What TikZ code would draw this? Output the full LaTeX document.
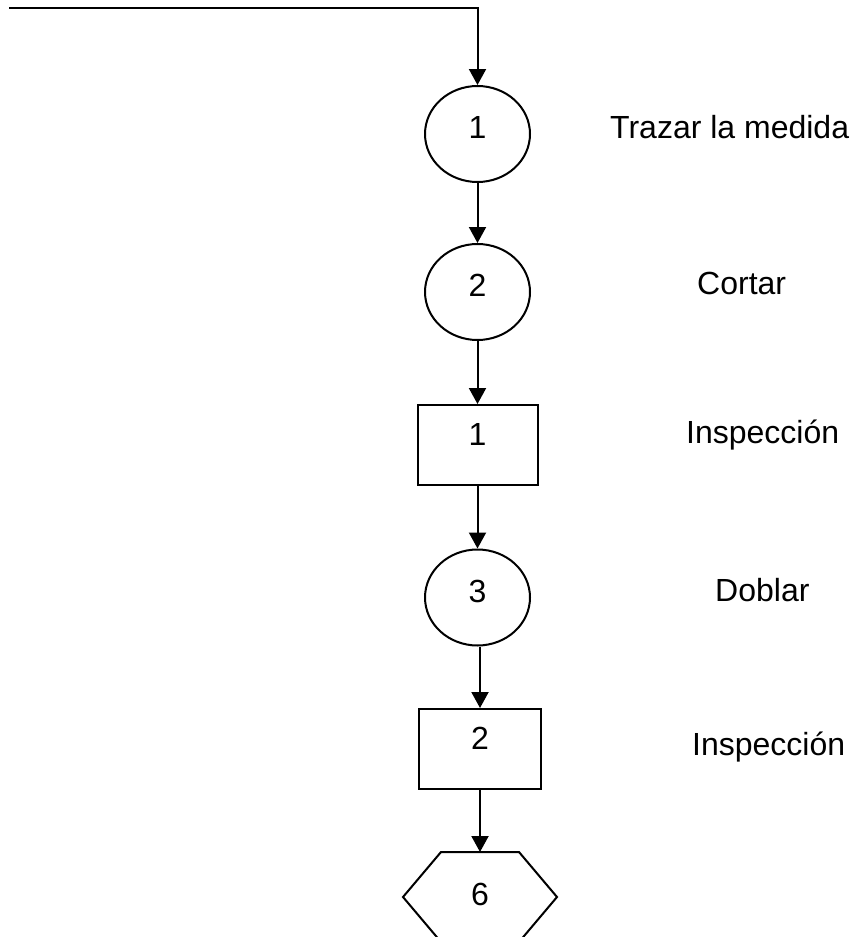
\documentclass[tikz,border=0pt]{standalone}
\usepackage{fontspec}
\setmainfont{Liberation Sans}
\usetikzlibrary{arrows.meta,shapes.geometric}
\begin{document}
\begin{tikzpicture}[x=1pt,y=-1pt,
  every node/.style={font=\fontsize{32}{38}\selectfont},
  conn/.style={line width=2pt,-{Triangle[width=17pt,length=16pt]}},
  opcirc/.style={draw,line width=2pt,ellipse,minimum width=105pt,minimum height=96pt,inner sep=0pt,text depth=13pt},
  inspbox/.style={draw,line width=2pt,rectangle,minimum height=80pt,inner sep=0pt,text depth=22pt},
  lbl/.style={anchor=base west,inner sep=0pt}]
\useasboundingbox (0,0) rectangle (853,937);
\clip (0,0) rectangle (853,937);
\coordinate (start) at (9,8);
\node[opcirc] (c1) at (477.5,134) {1};
\node[opcirc] (c2) at (477.5,292) {2};
\node[inspbox,minimum width=120pt] (r1) at (477.5,445) {1};
\node[opcirc] (c3) at (477.5,597.5) {3};
\node[inspbox,minimum width=122pt] (r2) at (480,749) {2};
\draw[line width=2pt] (441,852) -- (519,852) -- (557,897) -- (519,942) -- (441,942) -- (403,897) -- cycle;
\coordinate (h) at (480,852);
\node[inner sep=0pt,text depth=6pt] (h6) at (480,897) {6};
\node[lbl] (t1) at (610,138) {Trazar la medida};
\node[lbl] (t2) at (697,294) {Cortar};
\node[lbl] (t3) at (686,443) {Inspección};
\node[lbl] (t4) at (715,601) {Doblar};
\node[lbl] (t5) at (692,755) {Inspección};
\draw[conn] (start) -| (c1.north);
\draw[conn] (c1.south) -- (c2.north);
\draw[conn] (c2.south) -- (r1.north);
\draw[conn] (r1.south) -- (c3.north);
\draw[conn] (c3.south -| r2.north) -- (r2.north);
\draw[conn] (r2.south) -- (h);
\end{tikzpicture}
\end{document}
